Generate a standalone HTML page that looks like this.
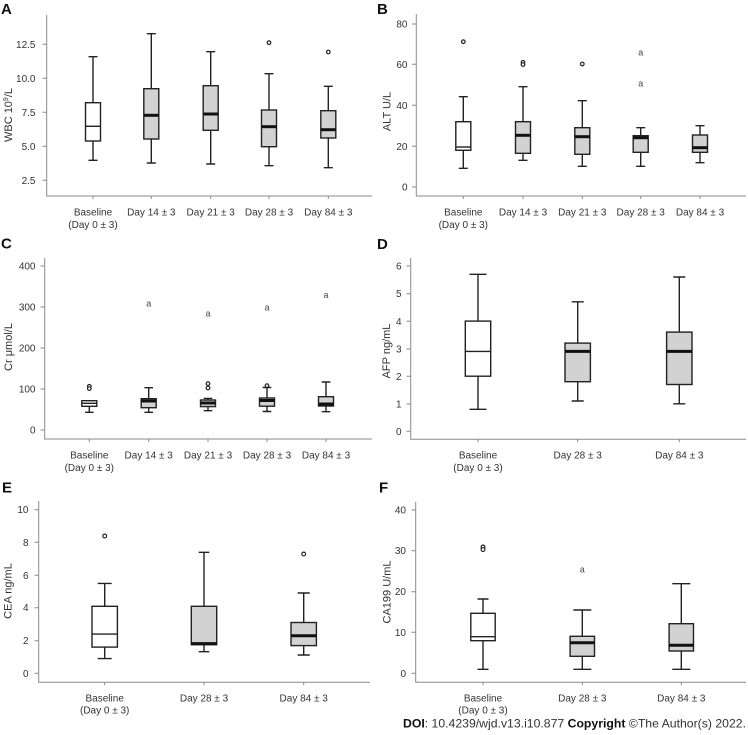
<!DOCTYPE html>
<html><head><meta charset="utf-8"><style>
html,body{margin:0;padding:0;background:#fff;}
svg{display:block;}
text{font-family:"Liberation Sans",Arial,sans-serif;fill:#333;}
.t{font-size:10px;}
.yl{font-size:11px;text-anchor:middle;}
.pl{font-size:15px;font-weight:bold;fill:#111;}
.ax{stroke:#8a8a8a;stroke-width:1;fill:none;}
.w{stroke:#222;stroke-width:1.4;fill:none;}
.bg{fill:#d2d2d2;stroke:#222;stroke-width:1.4;}
.bw{fill:#fff;stroke:#222;stroke-width:1.4;}
.md{stroke:#111;stroke-width:3;}
.mt{stroke:#222;stroke-width:1.4;}
.o{fill:#fff;stroke:#222;stroke-width:1.2;}
.a{font-size:9px;text-anchor:middle;fill:#444;}
.xl{font-size:10px;text-anchor:middle;}
.yt{font-size:10px;text-anchor:end;}
</style></head><body>
<svg width="748" height="735" viewBox="0 0 748 735" xmlns="http://www.w3.org/2000/svg">
<rect width="748" height="735" fill="#fff"/>

<!-- ================= A ================= -->
<text class="pl" x="1" y="14">A</text>
<text class="yl" transform="translate(12,115) rotate(-90)">WBC 10<tspan font-size="7" dy="-4">9</tspan><tspan dy="4">/L</tspan></text>
<path class="ax" d="M46.7,15V196H372"/>
<path class="ax" d="M42.5,44.3H46.7M42.5,78.3H46.7M42.5,112.3H46.7M42.5,146.3H46.7M42.5,180.3H46.7"/>
<path class="ax" d="M93,196v3M151.3,196v3M210.7,196v3M269,196v3M328.3,196v3"/>
<text class="yt" x="35.5" y="47.8">12.5</text>
<text class="yt" x="35.5" y="81.8">10.0</text>
<text class="yt" x="35.5" y="115.8">7.5</text>
<text class="yt" x="35.5" y="149.8">5.0</text>
<text class="yt" x="35.5" y="183.8">2.5</text>
<!-- boxes A -->
<path class="w" d="M93,56.7V102.7M93,141V160.3M88.5,56.7H97.5M88.5,160.3H97.5"/>
<rect class="bw" x="85.5" y="102.7" width="15" height="38.3"/>
<line class="mt" x1="85.5" y1="126.3" x2="100.5" y2="126.3"/>

<path class="w" d="M151.3,33.7V88.7M151.3,139V163M146.8,33.7H155.8M146.8,163H155.8"/>
<rect class="bg" x="143.8" y="88.7" width="15" height="50.3"/>
<line class="md" x1="143.8" y1="115.3" x2="158.8" y2="115.3"/>

<path class="w" d="M210.7,51.7V85.7M210.7,130.3V164M206.2,51.7H215.2M206.2,164H215.2"/>
<rect class="bg" x="203.2" y="85.7" width="15" height="44.6"/>
<line class="md" x1="203.2" y1="114" x2="218.2" y2="114"/>

<circle class="o" cx="269" cy="42.7" r="1.8"/>
<path class="w" d="M269,73.7V110M269,146.7V165.7M264.5,73.7H273.5M264.5,165.7H273.5"/>
<rect class="bg" x="261.5" y="110" width="15" height="36.7"/>
<line class="md" x1="261.5" y1="126.7" x2="276.5" y2="126.7"/>

<circle class="o" cx="328.3" cy="52" r="1.8"/>
<path class="w" d="M328.3,86.3V110.7M328.3,138V167.7M323.8,86.3H332.8M323.8,167.7H332.8"/>
<rect class="bg" x="320.8" y="110.7" width="15" height="27.3"/>
<line class="md" x1="320.8" y1="129.7" x2="335.8" y2="129.7"/>

<text class="xl" x="93" y="215.5">Baseline</text>
<text class="xl" x="93" y="228">(Day 0 ± 3)</text>
<text class="xl" x="151.3" y="215.5">Day 14 ± 3</text>
<text class="xl" x="210.7" y="215.5">Day 21 ± 3</text>
<text class="xl" x="269" y="215.5">Day 28 ± 3</text>
<text class="xl" x="328.3" y="215.5">Day 84 ± 3</text>

<!-- ================= B ================= -->
<text class="pl" x="377" y="14">B</text>
<text class="yl" transform="translate(390.5,111.5) rotate(-90)">ALT U/L</text>
<path class="ax" d="M416.3,14V196H746"/>
<path class="ax" d="M412,24H416.3M412,64.3H416.3M412,105.3H416.3M412,146.3H416.3M412,187H416.3"/>
<path class="ax" d="M463.3,196v3M523,196v3M582.3,196v3M640.7,196v3M700,196v3"/>
<text class="yt" x="407.5" y="27.5">80</text>
<text class="yt" x="407.5" y="67.8">60</text>
<text class="yt" x="407.5" y="108.8">40</text>
<text class="yt" x="407.5" y="149.8">20</text>
<text class="yt" x="407.5" y="190.5">0</text>

<circle class="o" cx="463.3" cy="41.7" r="1.8"/>
<path class="w" d="M463.3,96.7V121.7M463.3,150.3V168.3M458.8,96.7H467.8M458.8,168.3H467.8"/>
<rect class="bw" x="455.8" y="121.7" width="15" height="28.6"/>
<line class="mt" x1="455.8" y1="147" x2="470.8" y2="147"/>

<circle class="o" cx="523" cy="62.3" r="1.8"/>
<circle class="o" cx="523" cy="64.6" r="1.8"/>
<path class="w" d="M523,86.7V121.7M523,153.3V160.3M518.5,86.7H527.5M518.5,160.3H527.5"/>
<rect class="bg" x="515.5" y="121.7" width="15" height="31.6"/>
<line class="md" x1="515.5" y1="135.3" x2="530.5" y2="135.3"/>

<circle class="o" cx="582.3" cy="64" r="1.8"/>
<path class="w" d="M582.3,100.7V127.7M582.3,154.3V166.3M577.8,100.7H586.8M577.8,166.3H586.8"/>
<rect class="bg" x="574.8" y="127.7" width="15" height="26.6"/>
<line class="md" x1="574.8" y1="136.7" x2="589.8" y2="136.7"/>

<text class="a" x="640.7" y="55.7">a</text>
<text class="a" x="640.7" y="86.7">a</text>
<path class="w" d="M640.7,127.7V135.7M640.7,152.3V166.3M636.2,127.7H645.2M636.2,166.3H645.2"/>
<rect class="bg" x="633.2" y="135.7" width="15" height="16.6"/>
<line class="md" x1="633.2" y1="137.7" x2="648.2" y2="137.7"/>

<path class="w" d="M700,125.7V135M700,152.3V162.7M695.5,125.7H704.5M695.5,162.7H704.5"/>
<rect class="bg" x="692.5" y="135" width="15" height="17.3"/>
<line class="md" x1="692.5" y1="147.7" x2="707.5" y2="147.7"/>

<text class="xl" x="463.3" y="215.5">Baseline</text>
<text class="xl" x="463.3" y="228">(Day 0 ± 3)</text>
<text class="xl" x="523" y="215.5">Day 14 ± 3</text>
<text class="xl" x="582.3" y="215.5">Day 21 ± 3</text>
<text class="xl" x="640.7" y="215.5">Day 28 ± 3</text>
<text class="xl" x="700" y="215.5">Day 84 ± 3</text>

<!-- ================= C ================= -->
<text class="pl" x="1" y="248.5">C</text>
<text class="yl" transform="translate(12,347) rotate(-90)">Cr μmol/L</text>
<path class="ax" d="M44.7,258V439H372"/>
<path class="ax" d="M40.5,266H44.7M40.5,307H44.7M40.5,348H44.7M40.5,389H44.7M40.5,430H44.7"/>
<path class="ax" d="M89.3,439v3M148.7,439v3M208,439v3M267,439v3M326,439v3"/>
<text class="yt" x="35.5" y="269.5">400</text>
<text class="yt" x="35.5" y="310.5">300</text>
<text class="yt" x="35.5" y="351.5">200</text>
<text class="yt" x="35.5" y="392.5">100</text>
<text class="yt" x="35.5" y="433.5">0</text>

<circle class="o" cx="89.3" cy="386.3" r="1.8"/>
<circle class="o" cx="89.3" cy="388.6" r="1.8"/>
<path class="w" d="M89.3,406.3V412.3M85,412.3H93.6"/>
<rect class="bw" x="81.8" y="400.7" width="15" height="5.6"/>
<line class="mt" x1="81.8" y1="403.3" x2="96.8" y2="403.3"/>

<text class="a" x="148.7" y="306.3">a</text>
<path class="w" d="M148.7,387.7V398.7M148.7,407.7V412.3M144.4,387.7H153M144.4,412.3H153"/>
<rect class="bg" x="141.2" y="398.7" width="15" height="9"/>
<line class="md" x1="141.2" y1="401" x2="156.2" y2="401"/>

<text class="a" x="208" y="316.7">a</text>
<circle class="o" cx="208" cy="383.7" r="1.8"/>
<circle class="o" cx="208" cy="388" r="1.8"/>
<path class="w" d="M208,398.4V400M208,406.6V410.7M203.7,398.4H212.3M203.7,410.7H212.3"/>
<rect class="bg" x="200.5" y="400" width="15" height="6.6"/>
<line class="md" x1="200.5" y1="403" x2="215.5" y2="403"/>

<text class="a" x="267" y="310.3">a</text>
<circle class="o" cx="267" cy="385.7" r="1.8"/>
<path class="w" d="M267,387.5V398M267,406.2V411.5M262.7,387.5H271.3M262.7,411.5H271.3"/>
<rect class="bg" x="259.5" y="398" width="15" height="8.2"/>
<line class="md" x1="259.5" y1="400.5" x2="274.5" y2="400.5"/>

<text class="a" x="326" y="298">a</text>
<path class="w" d="M326,382V396.7M326,406V411.7M321.7,382H330.3M321.7,411.7H330.3"/>
<rect class="bg" x="318.5" y="396.7" width="15" height="9.3"/>
<line class="md" x1="318.5" y1="404" x2="333.5" y2="404"/>

<text class="xl" x="89.3" y="458.5">Baseline</text>
<text class="xl" x="89.3" y="471">(Day 0 ± 3)</text>
<text class="xl" x="148.7" y="458.5">Day 14 ± 3</text>
<text class="xl" x="208" y="458.5">Day 21 ± 3</text>
<text class="xl" x="267" y="458.5">Day 28 ± 3</text>
<text class="xl" x="326" y="458.5">Day 84 ± 3</text>

<!-- ================= D ================= -->
<text class="pl" x="377" y="249">D</text>
<text class="yl" transform="translate(390,351) rotate(-90)">AFP ng/mL</text>
<path class="ax" d="M410.7,258V439.3H746"/>
<path class="ax" d="M406.5,266H410.7M406.5,293.7H410.7M406.5,321.3H410.7M406.5,349H410.7M406.5,376.3H410.7M406.5,404H410.7M406.5,431.3H410.7"/>
<path class="ax" d="M478,439.3v3M577.7,439.3v3M679.3,439.3v3"/>
<text class="yt" x="401.5" y="269.5">6</text>
<text class="yt" x="401.5" y="297.2">5</text>
<text class="yt" x="401.5" y="324.8">4</text>
<text class="yt" x="401.5" y="352.5">3</text>
<text class="yt" x="401.5" y="379.8">2</text>
<text class="yt" x="401.5" y="407.5">1</text>
<text class="yt" x="401.5" y="434.8">0</text>

<path class="w" d="M478,274.3V321.1M478,376.2V409.3M469.5,274.3H486.5M469.5,409.3H486.5"/>
<rect class="bw" x="465.3" y="321.1" width="25.4" height="55.1"/>
<line class="mt" x1="465.3" y1="351.4" x2="490.7" y2="351.4"/>

<path class="w" d="M577.7,301.8V343.1M577.7,381.7V401M571.7,301.8H583.7M571.7,401H583.7"/>
<rect class="bg" x="565" y="343.1" width="25.4" height="38.6"/>
<line class="md" x1="565" y1="351.4" x2="590.4" y2="351.4"/>

<path class="w" d="M679.3,277V332.1M679.3,384.5V403.8M673.3,277H685.3M673.3,403.8H685.3"/>
<rect class="bg" x="666.6" y="332.1" width="25.4" height="52.4"/>
<line class="md" x1="666.6" y1="351.4" x2="692" y2="351.4"/>

<text class="xl" x="478" y="458.5">Baseline</text>
<text class="xl" x="478" y="471">(Day 0 ± 3)</text>
<text class="xl" x="577.7" y="458.5">Day 28 ± 3</text>
<text class="xl" x="679.3" y="458.5">Day 84 ± 3</text>

<!-- ================= E ================= -->
<text class="pl" x="2" y="492.5">E</text>
<text class="yl" transform="translate(11.5,591) rotate(-90)">CEA ng/mL</text>
<path class="ax" d="M38.7,501V682.3H370"/>
<path class="ax" d="M34.5,509.7H38.7M34.5,542.3H38.7M34.5,575.3H38.7M34.5,607.7H38.7M34.5,640.7H38.7M34.5,673.3H38.7"/>
<path class="ax" d="M104.7,682.3v3M204,682.3v3M303.7,682.3v3"/>
<text class="yt" x="28.5" y="513.2">10</text>
<text class="yt" x="28.5" y="545.8">8</text>
<text class="yt" x="28.5" y="578.8">6</text>
<text class="yt" x="28.5" y="611.2">4</text>
<text class="yt" x="28.5" y="644.2">2</text>
<text class="yt" x="28.5" y="676.8">0</text>

<circle class="o" cx="104.7" cy="536" r="1.9"/>
<path class="w" d="M104.7,583.4V606.3M104.7,647.1V658.6M97.7,583.4H111.7M97.7,658.6H111.7"/>
<rect class="bw" x="92" y="606.3" width="25.4" height="40.8"/>
<line class="mt" x1="92" y1="634.1" x2="117.4" y2="634.1"/>

<path class="w" d="M204,552.3V606.3M204,644.7V651.7M198.7,552.3H209.3M198.7,651.7H209.3"/>
<rect class="bg" x="191.3" y="606.3" width="25.4" height="38.4"/>
<line class="md" x1="191.3" y1="643.6" x2="216.7" y2="643.6"/>

<circle class="o" cx="303.7" cy="554" r="1.9"/>
<path class="w" d="M303.7,593V622.5M303.7,645.6V655M297.7,593H309.7M297.7,655H309.7"/>
<rect class="bg" x="291" y="622.5" width="25.4" height="23.1"/>
<line class="md" x1="291" y1="635.7" x2="316.4" y2="635.7"/>

<text class="xl" x="104.7" y="701.3">Baseline</text>
<text class="xl" x="104.7" y="713.7">(Day 0 ± 3)</text>
<text class="xl" x="204" y="701.3">Day 28 ± 3</text>
<text class="xl" x="303.7" y="701.3">Day 84 ± 3</text>

<!-- ================= F ================= -->
<text class="pl" x="379" y="492.5">F</text>
<text class="yl" transform="translate(390.5,592) rotate(-90)">CA199 U/mL</text>
<path class="ax" d="M415.7,501.7V682.3H746"/>
<path class="ax" d="M411.5,510H415.7M411.5,550.7H415.7M411.5,591.7H415.7M411.5,632.3H415.7M411.5,673.3H415.7"/>
<path class="ax" d="M483,682.3v3M582.3,682.3v3M681.3,682.3v3"/>
<text class="yt" x="406" y="513.5">40</text>
<text class="yt" x="406" y="554.2">30</text>
<text class="yt" x="406" y="595.2">20</text>
<text class="yt" x="406" y="635.8">10</text>
<text class="yt" x="406" y="676.8">0</text>

<circle class="o" cx="483" cy="547" r="1.9"/>
<circle class="o" cx="483" cy="549.6" r="1.9"/>
<path class="w" d="M483,599V613.3M483,640.7V669.3M477.5,599H488.5M477.5,669.3H488.5"/>
<rect class="bw" x="470.8" y="613.3" width="24.4" height="27.4"/>
<line class="mt" x1="470.8" y1="636.7" x2="495.2" y2="636.7"/>

<text class="a" x="582.3" y="572.7">a</text>
<path class="w" d="M582.3,610V636.3M582.3,656.3V669.3M573.3,610H591.3M573.3,669.3H591.3"/>
<rect class="bg" x="570.1" y="636.3" width="24.4" height="20"/>
<line class="md" x1="570.1" y1="642.7" x2="594.5" y2="642.7"/>

<path class="w" d="M681.3,583.7V623.7M681.3,651V669.3M672.3,583.7H690.3M672.3,669.3H690.3"/>
<rect class="bg" x="669.1" y="623.7" width="24.4" height="27.3"/>
<line class="md" x1="669.1" y1="645.3" x2="693.5" y2="645.3"/>

<text class="xl" x="483" y="701.3">Baseline</text>
<text class="xl" x="483" y="713.7">(Day 0 ± 3)</text>
<text class="xl" x="582.3" y="701.3">Day 28 ± 3</text>
<text class="xl" x="681.3" y="701.3">Day 84 ± 3</text>

<!-- footer -->
<text x="403" y="727.5" font-size="12" fill="#222" textLength="343" lengthAdjust="spacingAndGlyphs"><tspan font-weight="bold" fill="#111">DOI</tspan>: 10.4239/wjd.v13.i10.877  <tspan font-weight="bold" fill="#111">Copyright</tspan> ©The Author(s) 2022.</text>
</svg>
</body></html>
